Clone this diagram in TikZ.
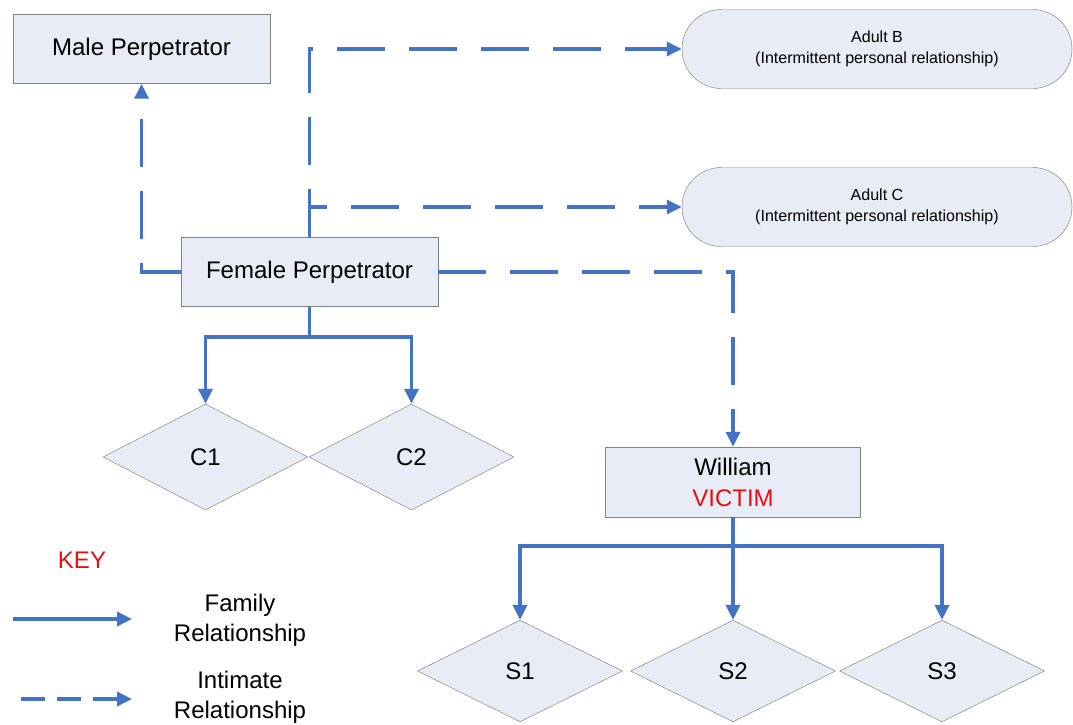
\documentclass[tikz,border=0pt]{standalone}
\usepackage{fontspec}
\setmainfont{Liberation Sans}
\usetikzlibrary{shapes.geometric,arrows.meta}
\definecolor{lnblue}{RGB}{68,114,196}
\definecolor{bxfill}{RGB}{232,236,246}
\definecolor{bxdraw}{RGB}{128,128,128}
\definecolor{kred}{RGB}{228,16,16}
\tikzset{
    BT/.style ={font=\fontsize{20.5}{25.5}\selectfont, align=center},
    ST/.style ={font=\fontsize{13.7}{18.5}\selectfont, align=center},
    RB/.style ={rectangle, minimum width = 7.7cm, minimum height = 2.07cm, draw=bxdraw, fill=bxfill, BT},
    RR/.style ={rectangle, rounded corners=1.18cm, minimum width = 11.7cm, minimum height = 2.37cm, draw=bxdraw, fill=bxfill, ST},
    DM/.style ={diamond, minimum width = 6.15cm, minimum height = 3.18cm, inner sep=0pt, draw=bxdraw, fill=bxfill, BT},
    FA/.style ={draw=lnblue, line width=3pt, -{Triangle[length=0.45cm,width=0.42cm]}},
    IA/.style ={FA, dash pattern=on 1.44cm off 0.72cm}}
\begin{document}
\begin{tikzpicture}[x=0.03cm,y=-0.03cm]
        \useasboundingbox (0,0) rectangle (1073,724);
        \node[RB] (mp) at (141.5,49) {Male Perpetrator};
        \node[RB] (fp) at (309.5,272) {Female Perpetrator};
        \node[RR] (ab) at (877,49) {Adult B\\(Intermittent personal relationship)};
        \node[RR] (ac) at (877,207) {Adult C\\(Intermittent personal relationship)};
        \node[DM] (c1) at (205.5,457) {C1};
        \node[DM] (c2) at (411.5,457) {C2};
        \node[RB,minimum width=7.65cm,minimum height=2.1cm,font=\fontsize{20.5}{26.4}\selectfont] (wil) at (733,482) {William\\{\color{kred}VICTIM}};
        \foreach \n/\x in {1/520,2/733,3/942}
            \node[DM,minimum height=3.05cm] (s\n) at (\x,671) {S\n};
        \coordinate (fb) at (309.5,337);
        \coordinate (wb) at (733,546);
        \draw[IA] (fp.west) -| (mp.south);
        \draw[IA] (fp.north) |- (ab.west);
        \draw[IA] (fp.north) |- (ac.west);
        \draw[IA] (fp.east) -| (wil.north);
        \draw[FA,-] (fp.south) -- (fb);
        \foreach \c in {c1,c2}
            \draw[FA] (fb) -| (\c.north);
        \draw[FA,-] (wil.south) -- (wb);
        \foreach \s in {s1,s2,s3}
            \draw[FA] (wb) -| (\s.north);
        % key
        \node[BT,text=kred] (key) at (82,560) {KEY};
        \node[BT] (kfam) at (240,620) {Family\\Relationship};
        \node[BT] (kint) at (240,697) {Intimate\\Relationship};
        \coordinate (kf1) at (13,619);
        \coordinate (kf2) at (132,619);
        \coordinate (ki1) at (21,699);
        \coordinate (ki2) at (132,699);
        \draw[FA] (kf1) -- (kf2);
        \draw[FA,dash pattern=on 0.72cm off 0.36cm] (ki1) -- (ki2);
    \end{tikzpicture}
\end{document}
